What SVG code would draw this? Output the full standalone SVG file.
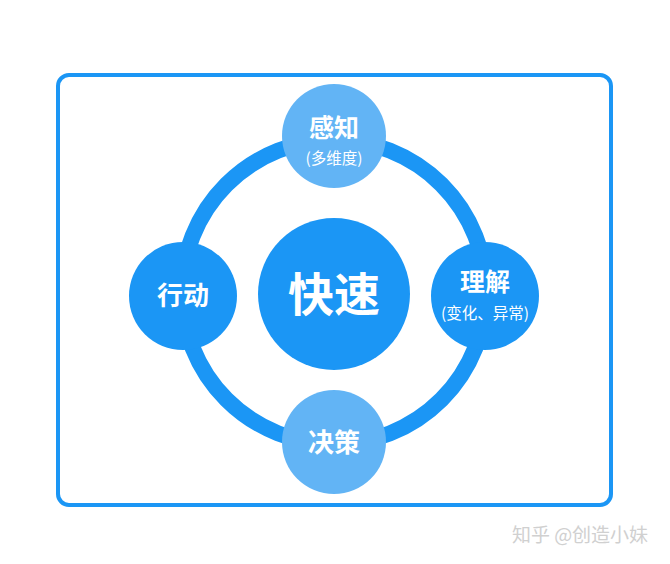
<svg xmlns="http://www.w3.org/2000/svg" width="670" height="564" viewBox="0 0 670 564">
<style>
.t{font-family:"Noto Sans CJK SC","Noto Sans",sans-serif;fill:#fff;text-anchor:middle;font-weight:bold}
.s{font-family:"Noto Sans CJK SC","Noto Sans",sans-serif;fill:#fff;text-anchor:middle}
.dark{fill:#1b96f5}
.light{fill:#62b4f5}
</style>
<rect width="670" height="564" fill="#fff"/>
<rect x="58" y="75" width="553" height="430" rx="11" fill="none" stroke="#1b96f5" stroke-width="4"/>
<g id="connectors">
<circle cx="334" cy="292" r="152" fill="none" stroke="#1b96f5" stroke-width="16"/>
</g>
<g id="center"><circle class="dark" cx="334" cy="294" r="76"/><text class="t" x="334" y="311" font-size="46">快速</text></g>
<g id="perceive"><circle class="light" cx="334" cy="136" r="52"/><text class="t" x="334" y="137" font-size="25">感知</text><text class="s" x="334" y="164" font-size="15.5">(多维度)</text></g>
<g id="understand"><circle class="dark" cx="485" cy="296" r="54"/><text class="t" x="485" y="291" font-size="25">理解</text><text class="s" x="485" y="319" font-size="15.5">(变化、异常)</text></g>
<g id="decide"><circle class="light" cx="334" cy="442" r="52"/><text class="t" x="334" y="452" font-size="26">决策</text></g>
<g id="act"><circle class="dark" cx="183" cy="296" r="54"/><text class="t" x="183" y="305" font-size="26">行动</text></g>
<text x="580" y="542" font-family="Noto Sans CJK SC,sans-serif" font-size="19" fill="#d0d0d0" text-anchor="middle">知乎 @创造小妹</text>
</svg>
